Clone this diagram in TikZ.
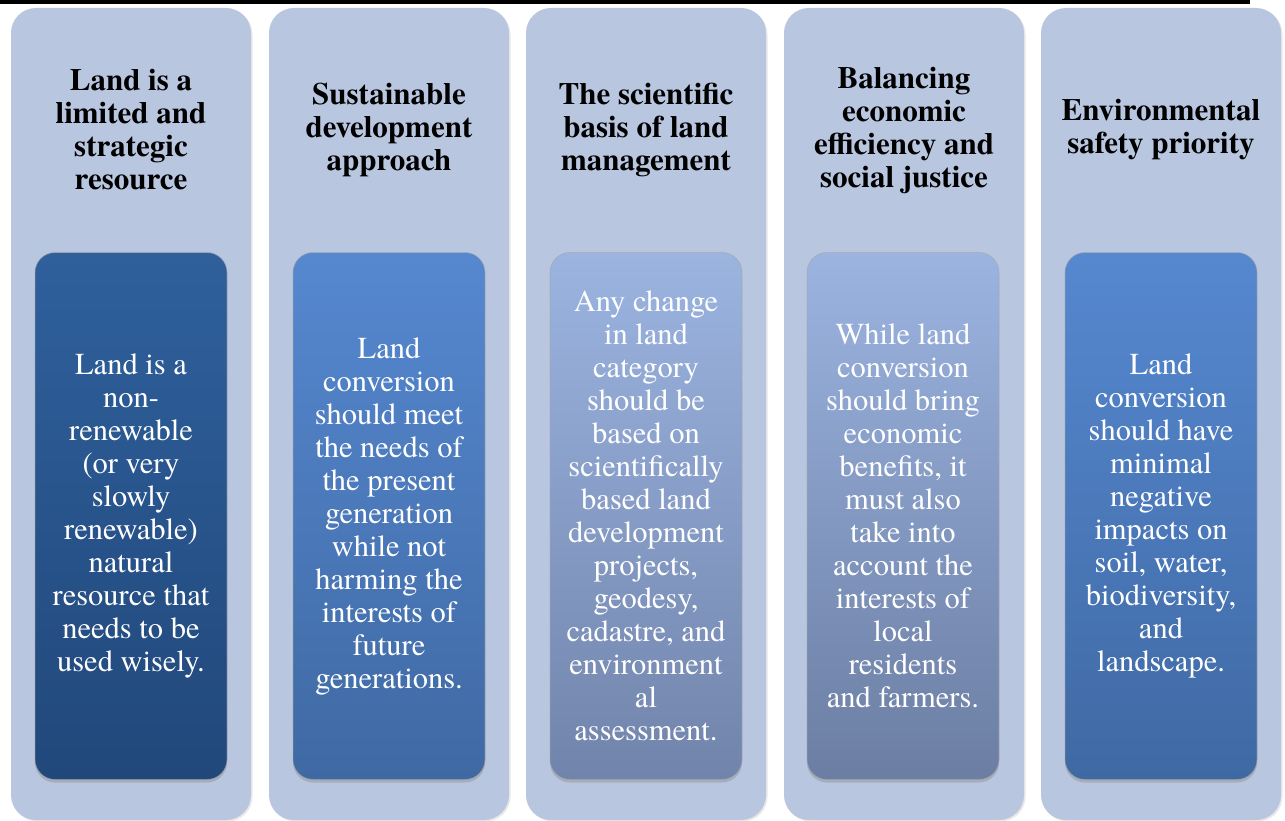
\documentclass[tikz,border=0pt]{standalone}
\usepackage{fontspec}
\setmainfont{texgyretermes}[Extension=.otf, UprightFont=*-regular, BoldFont=*-bold, ItalicFont=*-italic, BoldItalicFont=*-bolditalic]
\usetikzlibrary{shadows}
\definecolor{outerfill}{HTML}{B9C6DF}
\definecolor{aTop}{HTML}{2F609C}
\definecolor{aBot}{HTML}{21487B}
\definecolor{bTop}{HTML}{5688D0}
\definecolor{bBot}{HTML}{3F69A3}
\definecolor{cTop}{HTML}{9BB4E0}
\definecolor{cBot}{HTML}{7184AB}
\tikzset{
  outerbox/.style={rectangle, rounded corners=25pt, fill=outerfill, inner sep=0pt,
    minimum width=240pt, minimum height=812pt,
    drop shadow={opacity=0.18, shadow xshift=1.5pt, shadow yshift=-1.5pt}},
  innerbox/.style={rectangle, rounded corners=20pt, inner sep=0pt,
    minimum width=192pt, minimum height=527pt, text=white, align=center,
    draw=black!35, draw opacity=0.6, line width=0.8pt,
    font=\fontsize{30.5}{33}\selectfont,
    drop shadow={opacity=0.35, shadow xshift=0pt, shadow yshift=-3pt}},
  headtext/.style={align=center, text=black, inner sep=0pt,
    font=\bfseries\fontsize{31}{33}\selectfont},
}
\begin{document}
\begin{tikzpicture}[x=1pt,y=-1pt]
\useasboundingbox (0,0) rectangle (1285,821);
\fill[black] (0,0) rectangle (1250,4);
% outer columns
\node[outerbox] (o1) at (131,414) {};
\node[outerbox] (o2) at (389,414) {};
\node[outerbox] (o3) at (646,414) {};
\node[outerbox] (o4) at (904,414) {};
\node[outerbox] (o5) at (1161,414) {};
% headings
\node[headtext] (h1) at (131,130) {Land is a\\limited and\\strategic\\resource};
\node[headtext] (h2) at (389,130) {Sustainable\\development\\approach};
\node[headtext] (h3) at (646,130) {The scientific\\basis of land\\management};
\node[headtext] (h4) at (904,130) {Balancing\\economic\\efficiency and\\social justice};
\node[headtext] (h5) at (1161,130) {Environmental\\safety priority};
% inner boxes
\node[innerbox, top color=aTop, bottom color=aBot] (i1) at (131,516)
  {Land is a\\non-\\renewable\\(or very\\slowly\\renewable)\\natural\\resource that\\needs to be\\used wisely.};
\node[innerbox, top color=bTop, bottom color=bBot] (i2) at (389,516)
  {Land\\conversion\\should meet\\the needs of\\the present\\generation\\while not\\harming the\\interests of\\future\\generations.};
\node[innerbox, top color=cTop, bottom color=cBot] (i3) at (646,516)
  {Any change\\in land\\category\\should be\\based on\\scientifically\\based land\\development\\projects,\\geodesy,\\cadastre, and\\environment\\al\\assessment.};
\node[innerbox, top color=cTop, bottom color=cBot!95!black] (i4) at (903,516)
  {While land\\conversion\\should bring\\economic\\benefits, it\\must also\\take into\\account the\\interests of\\local\\residents\\and farmers.};
\node[innerbox, top color=bTop, bottom color=bBot] (i5) at (1161,516)
  {Land\\conversion\\should have\\minimal\\negative\\impacts on\\soil, water,\\biodiversity,\\and\\landscape.};
\end{tikzpicture}
\end{document}
